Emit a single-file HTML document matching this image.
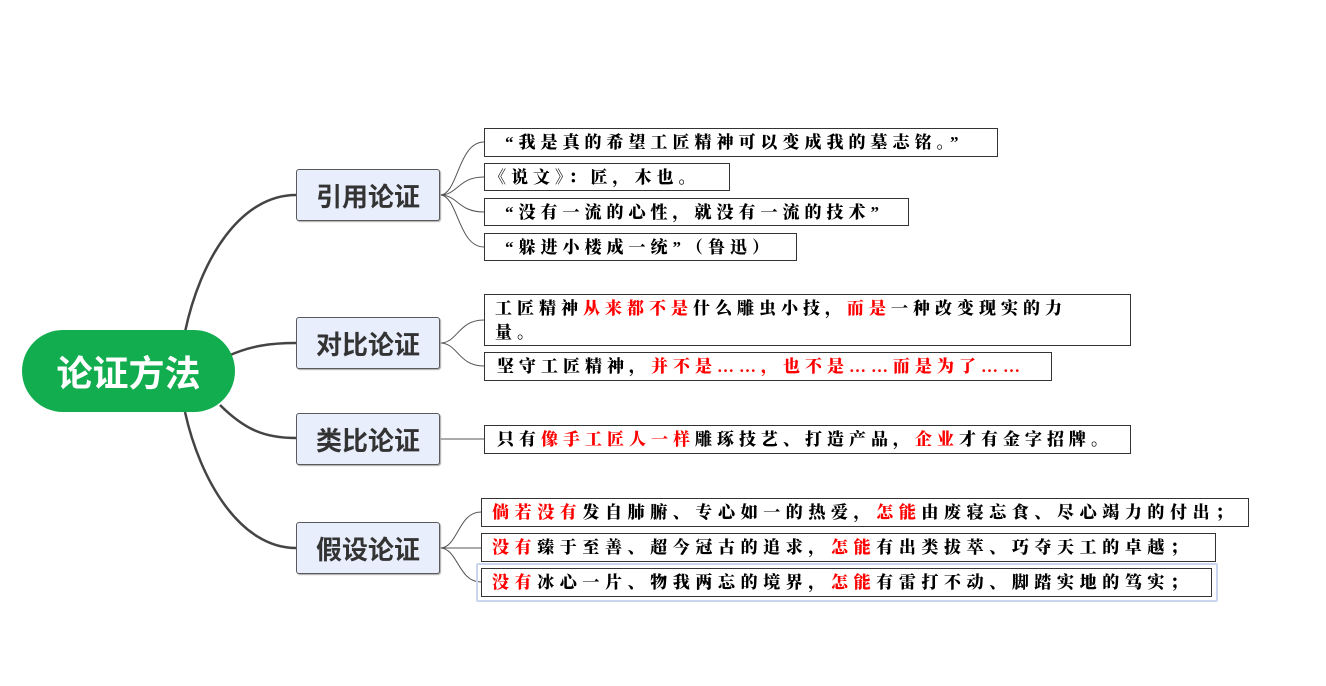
<!DOCTYPE html>
<html><head><meta charset="utf-8"><style>
body{margin:0;width:1326px;height:686px;background:#fff;position:relative;overflow:hidden;font-family:"Liberation Sans","Noto Sans CJK SC",sans-serif}
.root{position:absolute;left:22px;top:330px;width:213px;height:82px;border-radius:41px;background:#12ad4f;color:#fff;font-size:36px;font-weight:bold;display:flex;align-items:center;justify-content:center}
.br{position:absolute;left:296px;width:142px;height:50px;background:#e8eefc;border:1.5px solid #5a5a5a;border-radius:3px;color:#333;font-size:26px;font-weight:bold;display:flex;align-items:center;justify-content:center;box-shadow:1px 1px 1px #aaa}
.lf{position:absolute;left:484px;border:1px solid #333;background:#fff;font-family:"Liberation Serif","Noto Serif CJK SC",serif;font-weight:900;font-size:17px;letter-spacing:5px;color:#000;padding-left:10px;line-height:28px;white-space:nowrap;box-sizing:border-box;height:29px}
.r{color:#f00}
</style></head><body>
<svg width="1326" height="686" style="position:absolute;left:0;top:0">
<g fill="none" stroke="#444" stroke-width="2.5">
<path d="M185,332 C200,260 240,195 296,195"/>
<path d="M228,356 C250,346 270,343 296,343"/>
<path d="M220,405 C245,430 265,438 296,438"/>
<path d="M185,412 C200,480 240,548 296,548"/>
</g>
<g fill="none" stroke="#555" stroke-width="1">
<path d="M440,195 C458,195 458,142 484,142"/>
<path d="M440,195 C458,195 458,177 484,177"/>
<path d="M440,195 C458,195 458,212 484,212"/>
<path d="M440,195 C458,195 458,247 484,247"/>
<path d="M440,343 C458,343 458,320 484,320"/>
<path d="M440,343 C458,343 458,366 484,366"/>
<path d="M440,439 L484,439"/>
<path d="M440,548 C458,548 458,512 481,512"/>
<path d="M440,548 L481,548"/>
<path d="M440,548 C458,548 458,582 481,582"/>
</g>
</svg>
<div class="root">论证方法</div>
<div class="br" style="top:169px">引用论证</div>
<div class="br" style="top:317px">对比论证</div>
<div class="br" style="top:413px">类比论证</div>
<div class="br" style="top:522px">假设论证</div>

<div class="lf" style="top:128px;width:514px;padding-left:20px">“我是真的希望工匠精神可以变成我的墓志铭。”</div>
<div class="lf" style="top:163px;width:246px;height:28px;padding-left:4px">《说文》：匠，木也。</div>
<div class="lf" style="top:198px;width:425px;height:28px;padding-left:20px">“没有一流的心性，就没有一流的技术”</div>
<div class="lf" style="top:233px;width:313px;height:28px;padding-left:20px">“躲进小楼成一统”（鲁迅）</div>
<div class="lf" style="top:294px;width:647px;height:52px;line-height:24px;padding-top:2px;white-space:normal;padding-right:50px">工匠精神<span class="r">从来都不是</span>什么雕虫小技，<span class="r">而是</span>一种改变现实的力量。</div>
<div class="lf" style="top:352px;width:568px;padding-left:12px">坚守工匠精神，<span class="r">并不是……，也不是……而是为了……</span></div>
<div class="lf" style="top:425px;width:647px;padding-left:12px">只有<span class="r">像手工匠人一样</span>雕琢技艺、打造产品，<span class="r">企业</span>才有金字招牌。</div>
<div class="lf" style="left:481px;top:498px;width:768px;padding-left:10px;letter-spacing:5.6px"><span class="r">倘若没有</span>发自肺腑、专心如一的热爱，<span class="r">怎能</span>由废寝忘食、尽心竭力的付出；</div>
<div class="lf" style="left:481px;top:533px;width:735px;padding-left:10px;letter-spacing:5.6px"><span class="r">没有</span>臻于至善、超今冠古的追求，<span class="r">怎能</span>有出类拔萃、巧夺天工的卓越；</div>
<div style="position:absolute;left:476px;top:563px;width:738px;height:35px;border:2px solid #c9d6ee;border-radius:2px"></div>
<div class="lf" style="left:481px;top:568px;width:731px;padding-left:10px;letter-spacing:5.6px"><span class="r">没有</span>冰心一片、物我两忘的境界，<span class="r">怎能</span>有雷打不动、脚踏实地的笃实；</div>
</body></html>
